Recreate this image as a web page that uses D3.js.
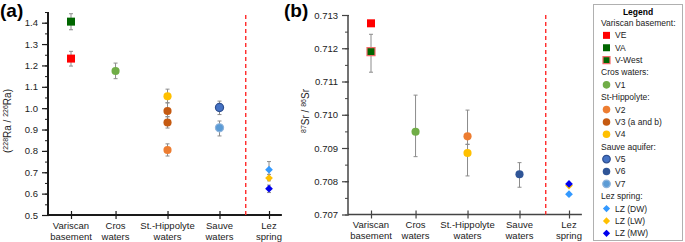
<!DOCTYPE html>
<html lang="en">
<head>
<meta charset="UTF-8"/>
<script src="https://d3js.org/d3.v7.min.js"></script>
<style>
  body { margin: 0; background: #fff; }
  svg { font-family: "Liberation Sans", Arial, sans-serif; }
</style>
</head>
<body>
<svg id="chart" width="685" height="242"></svg>
<script>
// categories along the x axis (two lines each) and their x positions
var categories = [["Variscan", "basement"], ["Cros", "waters"], ["St.-Hippolyte", "waters"], ["Sauve", "waters"], ["Lez", "spring"]];
var categoryX = [1, 1.9, 2.95, 4, 5];

// samples
var samples = ["VE", "VA", "V-West", "V1", "V2", "V3a", "V3b", "V4", "V5", "V6", "V7", "LZ (DW)", "LZ (LW)", "LZ (MW)"];
var sampleGroup = [0, 0, 0, 1, 2, 2, 2, 2, 3, 3, 3, 4, 4, 4];

// (228Ra / 226Ra) activity ratio with error bar ends
var raValue = [1.232, 1.405, null, 1.174, 0.804, 0.987, 0.933, 1.056, 1.003, null, 0.908, 0.712, 0.673, 0.623];
var raLow   = [1.197, 1.367, null, 1.138, 0.776, 0.960, 0.907, 1.025, 0.970, null, 0.870, 0.675, 0.660, 0.605];
var raHigh  = [1.266, 1.442, null, 1.211, 0.833, 1.025, 0.960, 1.089, 1.033, null, 0.940, 0.750, 0.690, 0.640];

// 87Sr / 86Sr with error bar ends
var srValue = [0.71275, null, 0.71190, 0.70949, 0.70935, null, null, 0.70885, null, 0.70821, null, 0.70761, 0.70787, 0.70792];
var srLow   = [null, null, 0.71128, 0.70874, 0.70911, null, null, 0.70816, null, 0.70782, null, null, null, null];
var srHigh  = [null, null, 0.71242, 0.71059, 0.71014, null, null, 0.70911, null, 0.70856, null, null, null, null];

// axis ticks
var raTicks = [0.5, 0.6, 0.7, 0.8, 0.9, 1.0, 1.1, 1.2, 1.3, 1.4];
var srTicks = [0.707, 0.708, 0.709, 0.710, 0.711, 0.712, 0.713];

// legend rows: [text, sample or null for headers]
var legendRows = [
  ["Variscan basement:", null], ["VE", "VE"], ["VA", "VA"], ["V-West", "V-West"],
  ["Cros waters:", null], ["V1", "V1"],
  ["St-Hippolyte:", null], ["V2", "V2"], ["V3 (a and b)", "V3a"], ["V4", "V4"],
  ["Sauve aquifer:", null], ["V5", "V5"], ["V6", "V6"], ["V7", "V7"],
  ["Lez spring:", null], ["LZ (DW)", "LZ (DW)"], ["LZ (LW)", "LZ (LW)"], ["LZ (MW)", "LZ (MW)"]
];

// marker styles
var style = {
  "VE":      { shape: "square",  fill: "#ff0000", stroke: "none" },
  "VA":      { shape: "square",  fill: "#006600", stroke: "none" },
  "V-West":  { shape: "square",  fill: "#006600", stroke: "#f26b6b" },
  "V1":      { shape: "circle",  fill: "#70ad47", stroke: "none" },
  "V2":      { shape: "circle",  fill: "#ed7d31", stroke: "none" },
  "V3a":     { shape: "circle",  fill: "#c55a11", stroke: "none" },
  "V3b":     { shape: "circle",  fill: "#c55a11", stroke: "none" },
  "V4":      { shape: "circle",  fill: "#ffc000", stroke: "none" },
  "V5":      { shape: "circle",  fill: "#4472c4", stroke: "#2f4f8f" },
  "V6":      { shape: "circle",  fill: "#2f5597", stroke: "none" },
  "V7":      { shape: "circle",  fill: "#5b9bd5", stroke: "#8fb4dc" },
  "LZ (DW)": { shape: "diamond", fill: "#3399ff", stroke: "none" },
  "LZ (LW)": { shape: "diamond", fill: "#ffc000", stroke: "none" },
  "LZ (MW)": { shape: "diamond", fill: "#0000ee", stroke: "none" }
};

var svg = d3.select("#chart");

// diamonds are drawn as squares turned by 45 degrees
function symbolPath(shape, size) {
  var t = shape == "circle" ? d3.symbolCircle : d3.symbolSquare;
  return d3.symbol().type(t).size(size)();
}
function symbolRotate(shape) {
  return shape == "diamond" ? " rotate(45)" : "";
}

function drawPanel(axisX, yDomain, yRange, axisTop, ticks, minorStep, fmt, values, lows, highs, axisColor, axisWidth) {
  var x = d3.scaleLinear().domain([1, 5]).range([axisX + 23, axisX + 221]);
  var y = d3.scaleLinear().domain(yDomain).range(yRange);
  var bottom = y(yDomain[0]);

  // minor ticks
  var minor = d3.range(yDomain[0], axisTop + minorStep / 2, minorStep);
  svg.append("g")
    .attr("transform", "translate(" + axisX + ",0)")
    .call(d3.axisLeft(y).tickValues(minor).tickSize(3).tickFormat(""))
    .call(function(g) { g.select(".domain").remove(); })
    .selectAll("line").attr("stroke", axisColor).attr("stroke-width", 1);

  // major ticks and labels
  var ya = svg.append("g")
    .attr("transform", "translate(" + axisX + ",0)")
    .call(d3.axisLeft(y).tickValues(ticks).tickSize(6).tickPadding(4).tickFormat(fmt));
  ya.select(".domain").remove();
  ya.selectAll("line").attr("stroke", axisColor).attr("stroke-width", 1.2).attr("x2", -6).attr("x1", 1);
  ya.selectAll("text").attr("font-size", "9.5px").attr("fill", "#222")
    .attr("font-family", "'Liberation Sans', Arial, sans-serif");

  svg.append("line")
    .attr("x1", axisX).attr("x2", axisX)
    .attr("y1", y(axisTop)).attr("y2", bottom)
    .attr("stroke", axisColor).attr("stroke-width", axisWidth);

  // x axis
  var xa = svg.append("g")
    .attr("transform", "translate(0," + bottom + ")")
    .call(d3.axisBottom(x).tickValues(categoryX).tickSize(4).tickFormat(""));
  xa.select(".domain").remove();
  xa.selectAll("line").attr("y1", -4).attr("y2", 4).attr("stroke", axisColor).attr("stroke-width", 1.2);
  svg.append("line")
    .attr("x1", axisX).attr("x2", x(5.26))
    .attr("y1", bottom).attr("y2", bottom)
    .attr("stroke", axisColor).attr("stroke-width", axisWidth);

  categories.forEach(function(c, i) {
    var t = svg.append("text")
      .attr("x", x(categoryX[i])).attr("y", bottom + 13.5)
      .attr("text-anchor", "middle").attr("font-size", "9.5px").attr("fill", "#222");
    c.forEach(function(line, k) {
      t.append("tspan").attr("x", x(categoryX[i])).attr("dy", k == 0 ? 0 : 11).text(line);
    });
  });

  // dashed separator
  svg.append("line")
    .attr("x1", x(4.53)).attr("x2", x(4.53))
    .attr("y1", 15).attr("y2", bottom)
    .attr("stroke", "#ff2a2a").attr("stroke-width", 1.4)
    .attr("stroke-dasharray", "4,3");

  // error bars
  samples.forEach(function(s, i) {
    if (values[i] == null || lows[i] == null) return;
    var cx = x(categoryX[sampleGroup[i]]);
    var g = svg.append("g").attr("stroke", "#8c8c8c").attr("stroke-width", 1);
    g.append("line").attr("x1", cx).attr("x2", cx).attr("y1", y(lows[i])).attr("y2", y(highs[i]));
    [lows[i], highs[i]].forEach(function(v) {
      g.append("line").attr("x1", cx - 2).attr("x2", cx + 2).attr("y1", y(v)).attr("y2", y(v));
    });
  });

  // markers
  samples.forEach(function(s, i) {
    if (values[i] == null) return;
    var st = style[s];
    svg.append("path")
      .attr("d", symbolPath(st.shape, st.shape == "square" ? 64 : st.shape == "circle" ? 52 : 30))
      .attr("transform", "translate(" + x(categoryX[sampleGroup[i]]) + "," + y(values[i]) + ")" + symbolRotate(st.shape))
      .attr("fill", st.fill)
      .attr("stroke", st.stroke)
      .attr("stroke-width", 1.2);
  });
}

drawPanel(48, [0.5, 1.4], [215, 22.7], 1.45, raTicks, 0.05, d3.format(".1f"),
  raValue, raLow, raHigh, "#1a1a1a", 2);
drawPanel(348, [0.707, 0.713], [214.5, 15], 0.713, srTicks, 0.0005, d3.format(".3f"),
  srValue, srLow, srHigh, "#444", 1.5);

// panel letters
svg.append("text").attr("x", 0).attr("y", 17).attr("font-size", "19px").attr("font-weight", "bold").text("(a)");
svg.append("text").attr("x", 284).attr("y", 17).attr("font-size", "19px").attr("font-weight", "bold").text("(b)");

// y titles
var ta = svg.append("text").attr("transform", "translate(11,121) rotate(-90)")
  .attr("text-anchor", "middle").attr("font-size", "10px").attr("fill", "#222");
ta.append("tspan").text("(");
ta.append("tspan").attr("font-size", "7px").attr("dy", -3).text("228");
ta.append("tspan").attr("dy", 3).text("Ra / ");
ta.append("tspan").attr("font-size", "7px").attr("dy", -3).text("226");
ta.append("tspan").attr("dy", 3).text("Ra)");

var tb = svg.append("text").attr("transform", "translate(309,111) rotate(-90)")
  .attr("text-anchor", "middle").attr("font-size", "10px").attr("fill", "#222");
tb.append("tspan").attr("font-size", "7px").attr("dy", -3).text("87");
tb.append("tspan").attr("dy", 3).text("Sr / ");
tb.append("tspan").attr("font-size", "7px").attr("dy", -3).text("86");
tb.append("tspan").attr("dy", 3).text("Sr");

// legend
var lg = svg.append("g");
lg.append("rect").attr("x", 593.5).attr("y", 4.5).attr("width", 89).attr("height", 236)
  .attr("fill", "#fff").attr("stroke", "#b0b0b0").attr("stroke-width", 1);
lg.append("text").attr("x", 638).attr("y", 14.5).attr("text-anchor", "middle")
  .attr("font-size", "8.5px").attr("font-weight", "bold").text("Legend");
var rowY = d3.scaleLinear().domain([0, legendRows.length - 1]).range([23, 233.3]);
legendRows.forEach(function(r, i) {
  var yy = rowY(i);
  if (r[1] == null) {
    lg.append("text").attr("x", 601).attr("y", yy + 3).attr("font-size", "8.5px").attr("fill", "#222").text(r[0]);
  } else {
    var st = style[r[1]];
    lg.append("path")
      .attr("d", symbolPath(st.shape, st.shape == "square" ? 49 : st.shape == "circle" ? 45 : 26))
      .attr("transform", "translate(606.5," + yy + ")" + symbolRotate(st.shape))
      .attr("fill", st.fill).attr("stroke", st.stroke).attr("stroke-width", 1.2);
    lg.append("text").attr("x", 615).attr("y", yy + 3).attr("font-size", "8.5px").attr("fill", "#222").text(r[0]);
  }
});
</script>
</body>
</html>
